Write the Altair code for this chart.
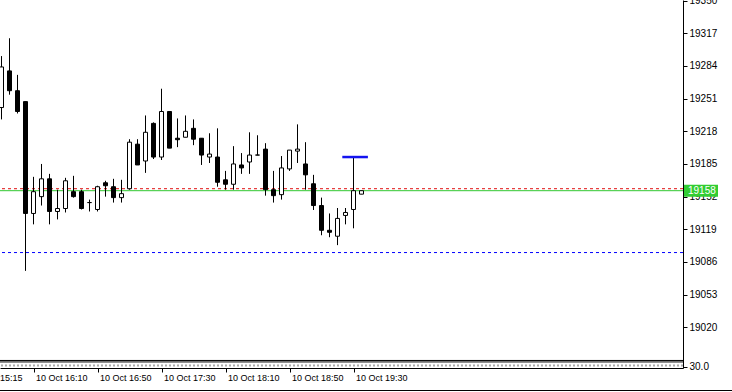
import altair as alt
import pandas as pd

# ---- data (M5 candles, 10 Oct) ----
times = ["15:50", "15:55", "16:00", "16:05", "16:10", "16:15", "16:20", "16:25", "16:30", "16:35",
         "16:40", "16:45", "16:50", "16:55", "17:00", "17:05", "17:10", "17:15", "17:20", "17:25",
         "17:30", "17:35", "17:40", "17:45", "17:50", "17:55", "18:00", "18:05", "18:10", "18:15",
         "18:20", "18:25", "18:30", "18:35", "18:40", "18:45", "18:50", "18:55", "19:00", "19:05",
         "19:10", "19:15", "19:20", "19:25", "19:30", "19:35"]
opens = [19242, 19279, 19259, 19248, 19135, 19152, 19170, 19137, 19140, 19157,
         19157, 19146, 19139, 19166, 19162, 19151, 19160, 19205, 19188, 19226,
         19192, 19238, 19211, 19212, 19221, 19211, 19192, 19192, 19169, 19164.5,
         19184, 19187, 19194, 19200, 19159, 19154, 19180, 19198, 19185, 19165,
         19143, 19118, 19112, 19133, 19139, 19154.5]
highs = [19294, 19312, 19275, 19248, 19172, 19185, 19175, 19159, 19171, 19173,
         19159, 19149, 19163, 19168, 19170, 19169, 19210, 19210, 19234, 19227,
         19261, 19238, 19231, 19234, 19230, 19211, 19216, 19221, 19178, 19203,
         19196, 19217, 19214, 19206, 19178, 19193, 19199, 19225, 19207, 19174,
         19151, 19135, 19140.5, 19140.5, 19191, 19158]
lows = [19230, 19255, 19236, 19077, 19124, 19143, 19124, 19129, 19136, 19151,
        19139, 19137, 19137, 19152, 19146, 19146, 19159, 19184, 19176, 19190,
        19189, 19201, 19202, 19212, 19204, 19184, 19186, 19162, 19159, 19159,
        19175, 19175, 19194, 19153, 19146, 19149, 19178, 19186, 19159, 19138.5,
        19113, 19111, 19103, 19124, 19120, 19154.5]
closes = [19283, 19259, 19238, 19135, 19157, 19170, 19137, 19140, 19168, 19152,
          19140, 19146, 19162, 19163, 19151, 19155, 19207, 19184, 19217, 19192,
          19238, 19201, 19209.5, 19218, 19210, 19194, 19195, 19166.5, 19164.5, 19185,
          19181, 19194, 19194, 19159, 19153, 19181, 19199, 19200, 19174, 19143,
          19118, 19116, 19130, 19136, 19158, 19158]

# horizontal levels
ask_level = 19160
bid_level = 19158
blue_level = 19095.5
# drawn segment
seg_start, seg_end, seg_level = "19:23", "19:39", 19192
# sub-window separator levels
sep_levels = [18986.5, 18985.0]
sub_dotted_level = 18981.4
sub_label_level = 18980.2
sub_label = "30.0"

# axis ticks / labels (first one is the left-edge label, drawn without a tick)
x_tick_times = ["15:50", "16:10", "16:50", "17:30", "18:10", "18:50", "19:30"]
x_tick_labels = ["10 Oct 15:15", "10 Oct 16:10", "10 Oct 16:50", "10 Oct 17:30",
                 "10 Oct 18:10", "10 Oct 18:50", "10 Oct 19:30"]
y_ticks = [19020, 19053, 19086, 19119, 19152, 19185, 19218, 19251, 19284, 19317, 19350]


def to_min(s):
    h, m = s.split(":")
    return int(h) * 60 + int(m)


df = pd.DataFrame({"t": [to_min(s) for s in times], "open": opens, "high": highs,
                   "low": lows, "close": closes})
df["bull"] = df["close"] >= df["open"]

FONT = "Liberation Sans Narrow, Liberation Sans, sans-serif"
W, H = 683, 368
X_DOMAIN = [949.0625, 1375.9375]
Y_DOMAIN = [18978.88, 19350.64]

x_vals = [to_min(s) for s in x_tick_times]
x_expr = "".join(f"datum.value == {v} ? '{l}' : " for v, l in zip(x_vals, x_tick_labels)) + "''"
y_expr = f"datum.value < 19000 ? '{sub_label}' : format(datum.value, 'd')"
first_test = f"datum.value == {x_vals[0]}"

xs = alt.Scale(domain=X_DOMAIN, nice=False, zero=False, padding=0)
ys = alt.Scale(domain=Y_DOMAIN, nice=False, zero=False, padding=0)

x_axis = alt.Axis(values=x_vals, labelExpr=x_expr, orient="bottom", title=None, grid=False,
                  domainColor="black", tickColor="black", tickSize=4, labelAlign="left",
                  labelBaseline="top", labelPadding=1,
                  labelOffset={"condition": {"test": first_test, "value": -31}, "value": 2},
                  tickOpacity={"condition": {"test": first_test, "value": 0}, "value": 1},
                  labelFlush=False, labelOverlap=False, labelFont=FONT, labelFontSize=9,
                  labelColor="black")
y_axis = alt.Axis(values=y_ticks + [sub_label_level], labelExpr=y_expr, orient="right", title=None,
                  grid=False, domainColor="black", tickColor="black", tickSize=4,
                  labelAlign="left", labelBaseline="middle", labelPadding=2, labelFlush=False,
                  labelOverlap=False, labelFont=FONT, labelFontSize=10, labelColor="black")


def X(field):
    return alt.X(field, scale=xs, axis=x_axis)


def Y(field):
    return alt.Y(field, scale=ys, axis=y_axis)


base = alt.Chart(df)

lv = pd.DataFrame({"ask": [ask_level], "bid": [bid_level], "blue": [blue_level],
                   "s1": [sep_levels[0]], "s2": [sep_levels[1]], "dot": [sub_dotted_level],
                   "seg_a": [to_min(seg_start)], "seg_b": [to_min(seg_end)], "seg_y": [seg_level],
                   "lbl": [str(bid_level)]})
lvc = alt.Chart(lv)

red_line = lvc.mark_rule(color="#e01010", strokeDash=[3, 3], strokeWidth=1).encode(y=Y("ask:Q"))
green_line = lvc.mark_rule(color="#32c832", strokeWidth=1).encode(y=Y("bid:Q"))
blue_line = lvc.mark_rule(color="#0000ff", strokeDash=[3, 3], strokeWidth=1).encode(y=Y("blue:Q"))
sep1 = lvc.mark_rule(color="black", strokeWidth=1).encode(y=Y("s1:Q"))
sep2 = lvc.mark_rule(color="black", strokeWidth=1).encode(y=Y("s2:Q"))
dotted = lvc.mark_rule(color="#a8a8a8", strokeDash=[2, 2], strokeWidth=2).encode(y=Y("dot:Q"))

wicks = base.mark_rule(color="black", strokeWidth=1).encode(
    x=X("t:Q"), y=Y("low:Q"), y2="high:Q",
)
bodies = base.mark_bar(size=4, stroke="black", strokeWidth=1).encode(
    x=X("t:Q"), y=Y("open:Q"), y2="close:Q",
    fill=alt.condition("datum.bull", alt.value("white"), alt.value("black")),
)

segment = lvc.mark_rule(color="#1414f0", strokeWidth=2.5).encode(
    x=X("seg_a:Q"), x2="seg_b:Q", y=Y("seg_y:Q"),
)

tag_box = lvc.mark_point(shape="M-1,-0.353L1,-0.353L1,0.353L-1,0.353Z", filled=True,
                         size=1156, color="#32cd32", opacity=1).encode(
    x=alt.value(701), y=Y("bid:Q"))
tag_text = lvc.mark_text(align="left", baseline="middle", color="white", font=FONT,
                         fontSize=10).encode(
    x=alt.value(688), y=Y("bid:Q"), text="lbl:N")

bottom_border = lvc.mark_rule(color="black", strokeWidth=1).encode(
    x=alt.value(0), x2=alt.value(732), y=alt.value(390.5))

chart = alt.layer(
    blue_line, red_line, green_line, sep1, sep2, dotted,
    wicks, bodies, segment, tag_box, tag_text, bottom_border,
).properties(
    width=W, height=H,
    autosize=alt.AutoSizeParams(type="none"),
    padding={"left": 0, "top": 0, "right": 49, "bottom": 24},
    background="white",
).configure_view(stroke=None)

chart.save("out.html", embed_options={"renderer": "svg", "actions": False})
